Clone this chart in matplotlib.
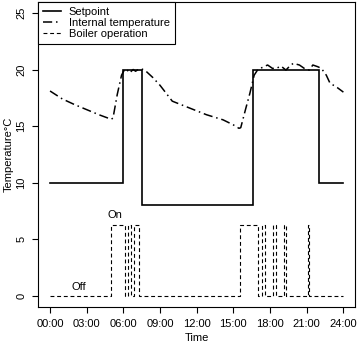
import matplotlib
matplotlib.use("Agg")
import matplotlib.pyplot as plt
import numpy as np

plt.rcParams['font.family'] = ['Liberation Sans', 'DejaVu Sans']

# Setpoint (step function)
sp_time = [0, 6.0, 6.0, 7.5, 7.5, 16.6, 16.6, 22.0, 22.0, 24.0]
sp_val = [10, 10, 20, 20, 8, 8, 20, 20, 10, 10]

# Internal temperature
it_time = [0, 1, 2, 3, 4, 5.0, 5.15, 5.5, 5.85, 6.1, 6.3, 6.45, 6.6, 6.8, 7.0, 7.2, 7.5,
           7.8, 8.4, 9.0, 10.0, 11.4, 12.8, 14.15, 15.0, 15.45, 15.6, 16.0, 16.35, 16.7,
           17.0, 17.4, 17.8, 18.2, 18.5, 18.9, 19.3, 19.6, 19.9, 20.4, 20.8, 21.2, 21.5,
           21.9, 22.2, 22.6, 22.9, 23.5, 24.0]
it_val = [18.1, 17.4, 16.9, 16.45, 16.0, 15.6, 15.7, 17.8, 19.5, 20.0, 19.85, 20.0, 19.8, 20.0,
          19.85, 20.0, 20.05, 19.9, 19.3, 18.6, 17.2, 16.6, 16.0, 15.55, 15.1, 14.8, 14.85,
          16.5, 17.9, 19.5, 20.0, 20.2, 20.4, 20.1, 20.1, 20.3, 19.95, 20.3, 20.55, 20.4,
          20.1, 19.95, 20.4, 20.25, 20.1, 19.5, 18.8, 18.4, 18.0]

# Boiler operation (on intervals, hours) and plotted levels
boiler_on = [(5.0, 6.15), (6.35, 6.6), (6.85, 7.25), (15.55, 17.0), (17.38, 17.58),
             (18.28, 18.5), (19.17, 19.33), (21.1, 21.18)]
off_level = 0
on_level = 6.2

xticks = [0, 3, 6, 9, 12, 15, 18, 21, 24]
xticklabels = ["00:00", "03:00", "06:00", "09:00", "12:00", "15:00", "18:00", "21:00", "24:00"]
yticks = [0, 5, 10, 15, 20, 25]

# build boiler trace
b_t = [0.0]
b_v = [off_level]
for a, b in boiler_on:
    b_t += [a, a, b, b]
    b_v += [off_level, on_level, on_level, off_level]
b_t.append(24.0)
b_v.append(off_level)

FS = 8

fig = plt.figure(figsize=(3.58, 3.44), dpi=100)
ax = fig.add_axes([0.107, 0.108, 0.885, 0.887])

ax.plot(sp_time, sp_val, color='black', lw=1.2, label='Setpoint', solid_joinstyle='miter')
ax.plot(it_time, it_val, color='black', lw=1.1, dashes=(6, 2.5, 1, 2.5), label='Internal temperature')
ax.plot(b_t, b_v, color='black', lw=0.8, dashes=(3.5, 2.5), label='Boiler operation')

ax.text(5.3, 6.7, "On", fontsize=FS, ha='center', va='bottom')
ax.text(2.35, 0.3, "Off", fontsize=FS, ha='center', va='bottom')

ax.set_xlim(-0.96, 24.96)
ax.set_ylim(-1, 26)
ax.set_xticks(xticks)
ax.set_xticklabels(xticklabels)
ax.set_yticks(yticks)
ax.set_yticklabels([str(v) for v in yticks], rotation=90, va='center')
ax.tick_params(axis='both', direction='out', length=4.3, width=0.8, labelsize=FS, pad=4.2)
for s in ax.spines.values():
    s.set_linewidth(0.8)

ax.set_xlabel("Time", fontsize=FS, labelpad=3)
ax.set_ylabel("Temperature°C", fontsize=FS, labelpad=2)

leg = ax.legend(loc='upper left', bbox_to_anchor=(0, 1), borderaxespad=0, fancybox=False,
                edgecolor='black', framealpha=1, fontsize=FS, handlelength=1.6,
                handletextpad=0.7, labelspacing=0.1, borderpad=0.45)
leg.get_frame().set_linewidth(0.8)

fig.savefig("out.png", dpi=100)
